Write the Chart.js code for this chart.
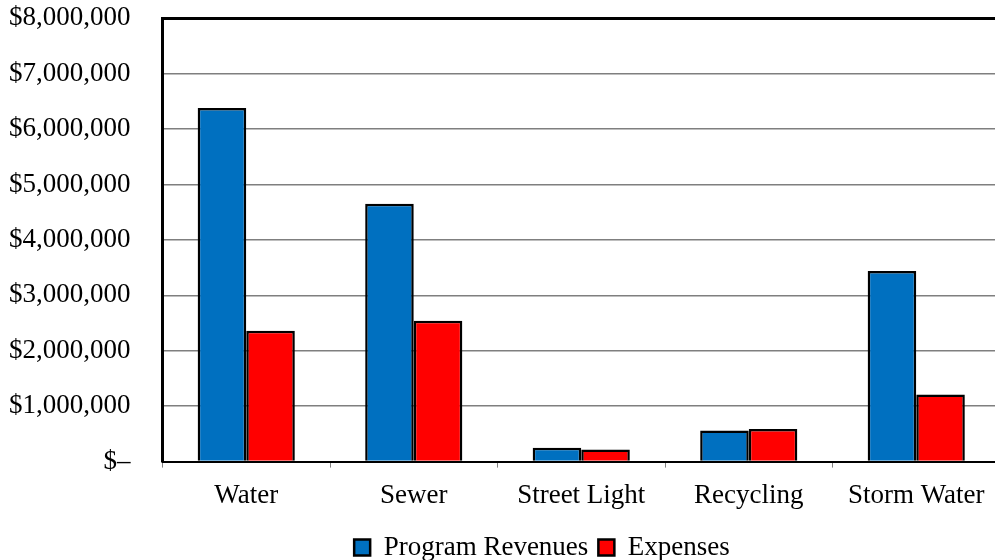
<!DOCTYPE html>
<html>
<head>
<meta charset="utf-8">
<script src="https://cdn.jsdelivr.net/npm/chart.js@4"></script>
<style>
  body { margin: 0; overflow: hidden; background: #fff; }
  #wrap { width: 1033px; height: 601px; margin-left: -33px; margin-top: -30px; }
</style>
</head>
<body>
<div id="wrap"><canvas id="myChart"></canvas></div>
<script>
// data
var categories = ['Water', 'Sewer', 'Street Light', 'Recycling', 'Storm Water'];
var revenues = [6380000, 4650000, 250000, 560000, 3440000];
var expenses = [2360000, 2540000, 220000, 590000, 1210000];
var yTicks = [0, 1000000, 2000000, 3000000, 4000000, 5000000, 6000000, 7000000, 8000000];

var serif = '"Liberation Serif", "Times New Roman", serif';

function money(v) {
  if (v === 0) return '$\u2013';
  return '$' + v.toLocaleString('en-US');
}

// shift legend a bit to the right like the original
var legendShift = {
  id: 'legendShift',
  afterLayout: function(chart) {
    chart.legend.left += 107;
  }
};

var ctx = document.getElementById('myChart').getContext('2d');
var myChart = new Chart(ctx, {
  type: 'bar',
  data: {
    labels: categories,
    datasets: [{
      label: 'Program Revenues',
      data: revenues,
      backgroundColor: '#0070C0',
      borderColor: '#000',
      borderWidth: 2.5,
      borderSkipped: 'bottom'
    }, {
      label: 'Expenses',
      data: expenses,
      backgroundColor: '#FF0000',
      borderColor: '#000',
      borderWidth: 2.5,
      borderSkipped: 'bottom'
    }]
  },
  options: {
    responsive: true,
    maintainAspectRatio: false,
    animation: false,
    categoryPercentage: 0.58,
    barPercentage: 1,
    layout: { padding: { left: 10, top: 4, right: 0, bottom: 0 } },
    plugins: {
      tooltip: { enabled: false },
      legend: {
        position: 'bottom',
        labels: {
          color: '#000',
          font: { family: serif, size: 27 },
          boxWidth: 16,
          boxHeight: 16,
          padding: 10
        }
      }
    },
    scales: {
      x: {
        grid: {
          offset: true,
          drawOnChartArea: false,
          drawTicks: true,
          tickLength: 6,
          color: '#808080'
        },
        border: { color: '#000', width: 2 },
        ticks: {
          color: '#000',
          font: { family: serif, size: 27 },
          padding: 12
        }
      },
      y: {
        min: 0,
        max: 8000000,
        afterBuildTicks: function(axis) {
          axis.ticks = yTicks.map(function(v) { return { value: v }; });
        },
        grid: {
          drawTicks: false,
          color: function(c) {
            return c.tick && c.tick.value === 8000000 ? '#000' : '#7f7f7f';
          },
          lineWidth: function(c) {
            return c.tick && c.tick.value === 8000000 ? 3 : 1.5;
          }
        },
        border: { color: '#000', width: 3 },
        ticks: {
          color: '#000',
          font: { family: serif, size: 27 },
          padding: 32,
          callback: function(value) { return money(value); }
        }
      }
    }
  },
  plugins: [legendShift]
});
</script>
</body>
</html>
